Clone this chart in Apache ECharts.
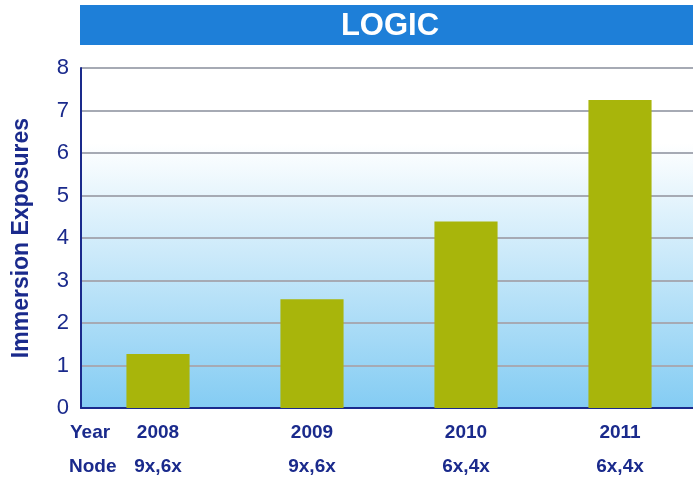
<!DOCTYPE html>
<html>
<head>
<meta charset="utf-8">
<script src="https://cdn.jsdelivr.net/npm/echarts@6/dist/echarts.min.js"></script>
<style>
  html, body { margin: 0; padding: 0; background: #fff; }
  #chart { width: 693px; height: 479px; }
</style>
</head>
<body>
<div id="chart"></div>
<script>
var years = ['2008', '2009', '2010', '2011'];
var nodes = ['9x,6x', '9x,6x', '6x,4x', '6x,4x'];
var exposures = [1.27, 2.56, 4.39, 7.25];
var yTicks = [0, 1, 2, 3, 4, 5, 6, 7, 8];

var navy = '#1a2a8c';
var font = '"Liberation Sans", Arial, sans-serif';

var chart = echarts.init(document.getElementById('chart'));

var option = {
  animation: false,
  graphic: [
    {
      type: 'rect',
      shape: { x: 80, y: 5, width: 613, height: 40 },
      style: { fill: '#1e7fd8' }
    },
    {
      type: 'text',
      x: 390, y: 26,
      style: {
        text: 'LOGIC', fill: '#fff', font: 'bold 31px ' + font,
        textAlign: 'center', textVerticalAlign: 'middle'
      }
    },
    {
      type: 'text',
      x: 70, y: 433,
      style: { text: 'Year', fill: navy, font: 'bold 19px ' + font, textVerticalAlign: 'middle' }
    },
    {
      type: 'text',
      x: 69, y: 467,
      style: { text: 'Node', fill: navy, font: 'bold 19px ' + font, textVerticalAlign: 'middle' }
    }
  ],
  grid: {
    left: 81, right: -4, top: 68, bottom: 71,
    outerBoundsMode: 'none',
    show: true, borderWidth: 0,
    backgroundColor: {
      type: 'linear', x: 0, y: 0, x2: 0, y2: 1,
      colorStops: [
        { offset: 0, color: '#ffffff' },
        { offset: 0.22, color: '#ffffff' },
        { offset: 1, color: '#84ccf3' }
      ]
    }
  },
  xAxis: {
    type: 'category',
    data: years.map(function (y, i) { return y + '\n' + nodes[i]; }),
    axisLine: { lineStyle: { color: navy, width: 2 } },
    axisTick: { show: false },
    axisLabel: {
      color: navy, fontFamily: font, fontWeight: 'bold', fontSize: 19,
      lineHeight: 34, margin: 8
    }
  },
  yAxis: {
    type: 'value',
    min: yTicks[0], max: yTicks[yTicks.length - 1], interval: 1,
    name: 'Immersion Exposures',
    nameLocation: 'middle', nameGap: 48,
    nameTextStyle: { color: navy, fontFamily: font, fontWeight: 'bold', fontSize: 23 },
    axisLine: { show: true, lineStyle: { color: navy, width: 2 } },
    axisTick: { show: false },
    axisLabel: { color: navy, fontFamily: font, fontSize: 22, margin: 12 },
    splitLine: { lineStyle: { color: '#a6aab4', width: 2 } }
  },
  series: [{
    type: 'bar',
    data: exposures,
    barWidth: '41%',
    itemStyle: { color: '#a8b50b' }
  }]
};

chart.setOption(option);
</script>
</body>
</html>
